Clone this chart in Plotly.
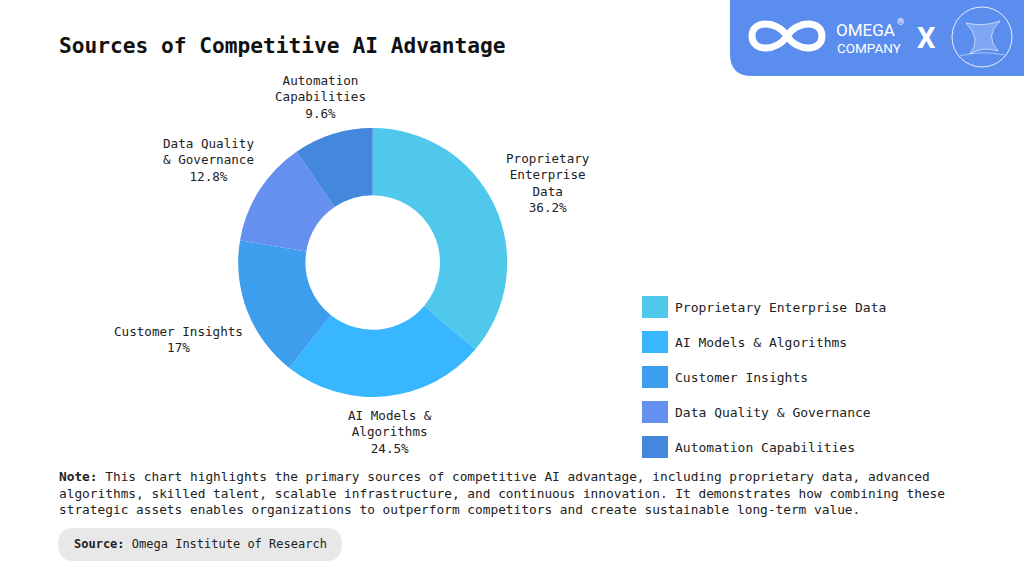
import math
import plotly.graph_objects as go

W, H = 1024, 576

labels = ["Proprietary Enterprise Data", "AI Models & Algorithms", "Customer Insights",
          "Data Quality & Governance", "Automation Capabilities"]
wrapped = [["Proprietary", "Enterprise", "Data"], ["AI Models &", "Algorithms"], ["Customer Insights"],
           ["Data Quality", "& Governance"], ["Automation", "Capabilities"]]
values = [36.2, 24.5, 17, 12.8, 9.6]
colors = ["#4FC8EC", "#38B6FF", "#3C9EEC", "#6690F0", "#4488DD"]

MONO = "DejaVu Sans Mono"
INK = "#222222"
LBL_SIZE = 12.6


def fx(px):
    return px / W


def fy(py):
    return 1 - py / H


# donut geometry (reference pixels)
CX, CY, R = 372.7, 262.5, 134.5

fig = go.Figure()
fig.add_trace(go.Pie(
    labels=labels, values=values, textinfo="none", hole=0.5, sort=False,
    direction="clockwise", marker=dict(colors=colors), showlegend=False,
    domain=dict(x=[fx(CX - R), fx(CX + R)], y=[fy(CY + R), fy(CY - R)]),
    hoverinfo="label+value",
))

shapes = []
annotations = []

# outside slice labels placed along each slice's mid angle
total = sum(values)
cum = 0
for lines, v in zip(wrapped, values):
    mid = (cum + v / 2) / total * 2 * math.pi
    cum += v
    dx, dy = math.sin(mid), -math.cos(mid)
    lines = lines + [f"{v:g}%"]
    hw = max(len(s) for s in lines) * 0.602 * LBL_SIZE / 2
    hh = len(lines) * 17 / 2
    lo, hi = 0, 400
    for _ in range(40):
        t = (lo + hi) / 2
        nx = max(abs(dx * t) - hw, 0)
        ny = max(abs(dy * t) - hh, 0)
        if math.hypot(nx, ny) < 142:
            lo = t
        else:
            hi = t
    annotations.append(dict(text="<br>".join(lines), x=fx(CX + dx * t), y=fy(CY + dy * t + 2),
                            xanchor="center", yanchor="middle", align="center", showarrow=False,
                            font=dict(family=MONO, size=LBL_SIZE, color=INK)))

# title
annotations.append(dict(text="<b>Sources of Competitive AI Advantage</b>", x=fx(57), y=fy(45),
                        xanchor="left", yanchor="middle", showarrow=False,
                        font=dict(family=MONO, size=21.2, color="#111111")))

# legend built by hand so the swatches can be large
for i, (lab, col) in enumerate(zip(labels, colors)):
    cy = 307 + 35 * i
    shapes.append(dict(type="rect", xref="paper", yref="paper", x0=fx(642), x1=fx(668),
                       y0=fy(cy - 11), y1=fy(cy + 11), fillcolor=col, line=dict(width=0)))
    annotations.append(dict(text=lab, x=fx(673), y=fy(cy), xanchor="left", yanchor="middle",
                            showarrow=False, font=dict(family=MONO, size=13, color=INK)))

# note
note = ("<b>Note:</b> This chart highlights the primary sources of competitive AI advantage, including proprietary data, advanced<br>"
        "algorithms, skilled talent, scalable infrastructure, and continuous innovation. It demonstrates how combining these<br>"
        "strategic assets enables organizations to outperform competitors and create sustainable long-term value.")
annotations.append(dict(text=note, x=fx(57), y=fy(467), xanchor="left", yanchor="top", align="left",
                        showarrow=False, font=dict(family=MONO, size=12.8, color=INK)))

# source pill
shapes.append(dict(type="path", xref="paper", yref="paper", fillcolor="#E8E8E8", line=dict(width=0),
                   path=f"M {fx(74)},{fy(528)} L {fx(326)},{fy(528)} Q {fx(342)},{fy(528)} {fx(342)},{fy(544)} "
                        f"Q {fx(342)},{fy(561)} {fx(326)},{fy(561)} L {fx(74)},{fy(561)} "
                        f"Q {fx(58)},{fy(561)} {fx(58)},{fy(544)} Q {fx(58)},{fy(528)} {fx(74)},{fy(528)} Z"))
annotations.append(dict(text="<b>Source:</b> Omega Institute of Research", x=fx(72), y=fy(544),
                        xanchor="left", yanchor="middle", showarrow=False,
                        font=dict(family=MONO, size=12, color=INK)))

# logo banner
shapes.append(dict(type="path", xref="paper", yref="paper", fillcolor="#5B8DEF", line=dict(width=0),
                   path=f"M {fx(730)},{fy(0)} L {fx(1024)},{fy(0)} L {fx(1024)},{fy(76)} L {fx(752)},{fy(76)} "
                        f"Q {fx(730)},{fy(76)} {fx(730)},{fy(54)} Z"))
shapes.append(dict(type="path", xref="paper", yref="paper", line=dict(color="white", width=7),
                   path=f"M {fx(787)},{fy(36)} C {fx(797)},{fy(20)} {fx(822)},{fy(20)} {fx(822)},{fy(36)} "
                        f"C {fx(822)},{fy(52)} {fx(797)},{fy(52)} {fx(787)},{fy(36)} "
                        f"C {fx(777)},{fy(20)} {fx(752)},{fy(20)} {fx(752)},{fy(36)} "
                        f"C {fx(752)},{fy(52)} {fx(777)},{fy(52)} {fx(787)},{fy(36)} Z"))
annotations.append(dict(text="OMEGA", x=fx(834), y=fy(30), xanchor="left", yanchor="middle",
                        showarrow=False, font=dict(family="Roboto", size=17, color="white")))
annotations.append(dict(text="®", x=fx(895), y=fy(22), xanchor="left", yanchor="middle",
                        showarrow=False, font=dict(family="Roboto", size=9, color="white")))
annotations.append(dict(text="COMPANY", x=fx(835), y=fy(48), xanchor="left", yanchor="middle",
                        showarrow=False, font=dict(family="Roboto", size=13.5, color="white")))
annotations.append(dict(text="<b>X</b>", x=fx(926), y=fy(38), xanchor="center", yanchor="middle", showarrow=False,
                        font=dict(family="Roboto", size=29, color="white")))
shapes.append(dict(type="circle", xref="paper", yref="paper", x0=fx(952), x1=fx(1012), y0=fy(7), y1=fy(67),
                   line=dict(color="rgba(255,255,255,0.85)", width=1)))
shapes.append(dict(type="path", xref="paper", yref="paper", fillcolor="rgba(255,255,255,0.22)",
                   line=dict(color="rgba(255,255,255,0.75)", width=0.8),
                   path=f"M {fx(966)},{fy(23)} Q {fx(984)},{fy(27)} {fx(1000)},{fy(21)} Q {fx(984)},{fy(36)} {fx(998)},{fy(51)} "
                        f"Q {fx(983)},{fy(46)} {fx(970)},{fy(54)} Q {fx(982)},{fy(39)} {fx(966)},{fy(23)} Z"))
shapes.append(dict(type="path", xref="paper", yref="paper", line=dict(color="rgba(255,255,255,0.6)", width=0.8),
                   path=f"M {fx(960)},{fy(56)} Q {fx(980)},{fy(50)} {fx(1004)},{fy(55)}"))

fig.update_layout(
    width=W, height=H, margin=dict(l=0, r=0, t=0, b=0),
    paper_bgcolor="white", plot_bgcolor="white",
    shapes=shapes, annotations=annotations,
)

# drop the default page margin so the 1024x576 figure fills the window
fig.write_html("out.html", config={"displayModeBar": False},
               post_script="document.body.style.margin='0';document.body.style.overflow='hidden';")
